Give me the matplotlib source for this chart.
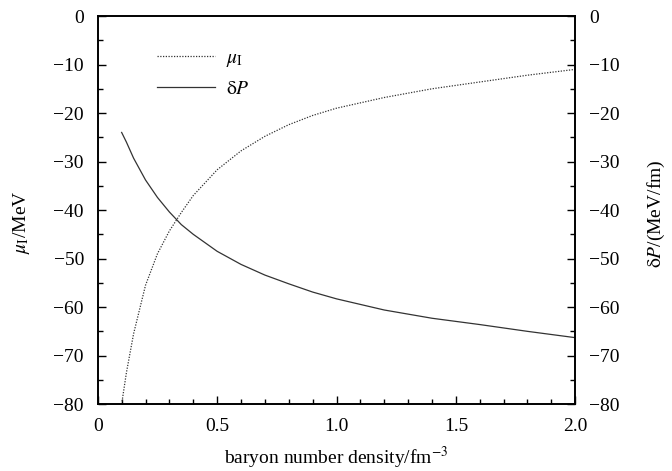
import matplotlib
matplotlib.use("Agg")
import matplotlib.pyplot as plt
from matplotlib.ticker import MultipleLocator

plt.rcParams['font.family'] = ['Liberation Serif', 'DejaVu Serif']
plt.rcParams['mathtext.fontset'] = 'stix'
plt.rcParams['font.size'] = 14

# data
density = [0.1, 0.12, 0.15, 0.2, 0.25, 0.3, 0.35, 0.4, 0.5, 0.6, 0.7,
           0.8, 0.9, 1.0, 1.2, 1.4, 1.6, 1.8, 2.0]
mu_I = [-80.0, -73.5, -65.5, -55.5, -49.0, -44.3, -40.5, -37.0, -31.7, -27.8,
        -24.8, -22.4, -20.5, -19.0, -16.8, -15.0, -13.6, -12.2, -11.0]
delta_P = [-24.0, -26.0, -29.3, -33.8, -37.4, -40.4, -43.0, -45.0, -48.5, -51.2,
           -53.4, -55.2, -56.9, -58.3, -60.6, -62.3, -63.6, -65.0, -66.3]

fig = plt.figure(figsize=(6.72, 4.71), dpi=100)
ax = fig.add_axes([0.1455, 0.142, 0.7105, 0.824])

ax.plot(density, mu_I, color='#333333', lw=0.9, ls=(0, (1, 1.2)), label=r'$\mu_{\mathrm{I}}$')
ax.plot(density, delta_P, color='#333333', lw=0.9, label=r'$\mathrm{\delta}P$')

ax.set_xlim(0, 2.0)
ax.set_ylim(-80, 0)
ax.xaxis.set_minor_locator(MultipleLocator(0.1))
ax.yaxis.set_major_locator(MultipleLocator(10))
ax.yaxis.set_minor_locator(MultipleLocator(5))
ax.set_xticks([0, 0.5, 1.0, 1.5, 2.0])
ax.set_xticklabels(['0', '0.5', '1.0', '1.5', '2.0'])
ax.tick_params(which='both', direction='in', right=True, width=1)
ax.tick_params(which='major', length=6, pad=10)
ax.tick_params(which='minor', length=3.5)
ax.set_xlabel(r'baryon number density/fm$^{-3}$', labelpad=7)
ax.set_ylabel(r'$\mu_{\mathrm{I}}$/MeV', labelpad=15)
ax.yaxis.label.set_y(0.47)

ax2 = ax.twinx()
ax2.set_ylim(-80, 0)
ax2.yaxis.set_major_locator(MultipleLocator(10))
ax2.yaxis.set_minor_locator(MultipleLocator(5))
ax2.tick_params(which='both', direction='in', width=1)
ax2.tick_params(which='major', length=6, pad=10)
ax2.tick_params(which='minor', length=3.5)
ax2.set_ylabel(r'$\mathrm{\delta}P$/(MeV/fm)', labelpad=19)
ax2.yaxis.label.set_y(0.49)

for a in (ax, ax2):
    for s in a.spines.values():
        s.set_linewidth(1.2)

ax.legend(loc='upper left', bbox_to_anchor=(0.123, 0.915), frameon=False,
          borderpad=0, borderaxespad=0,
          handlelength=3.0, handletextpad=0.55, labelspacing=0.6, fontsize=14)

fig.savefig('out.png', dpi=100)
